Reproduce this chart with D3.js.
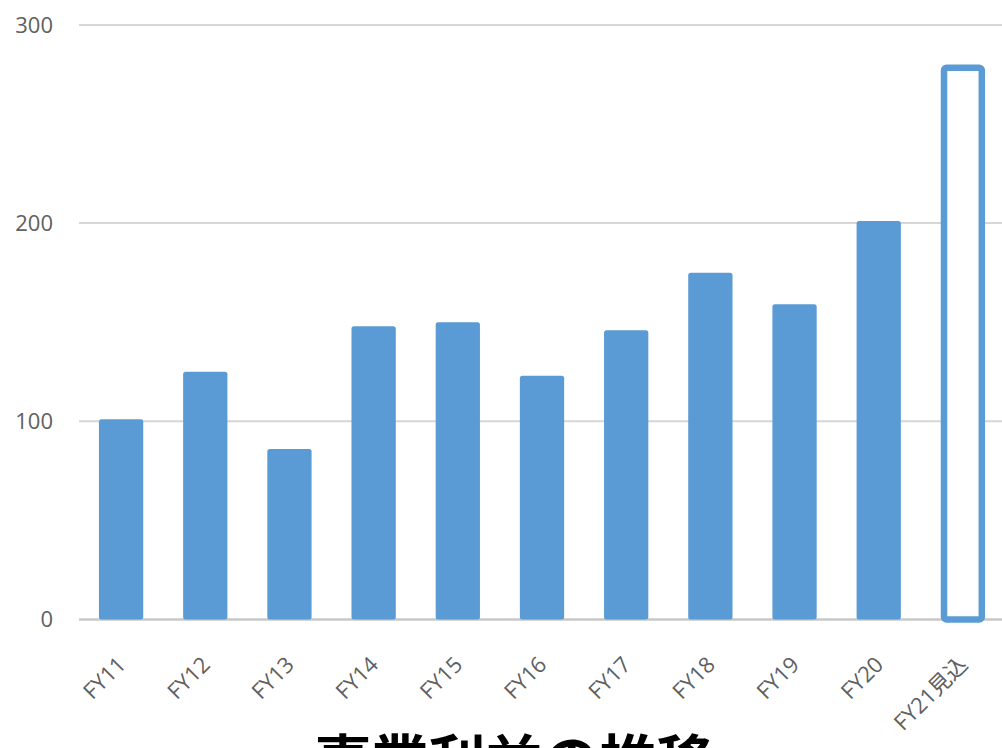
<!DOCTYPE html>
<html><head><meta charset="utf-8">
<script src="https://cdn.jsdelivr.net/npm/d3@7"></script>
<style>
html,body{margin:0;padding:0;background:#fff;overflow:hidden;}
svg{display:block;}
</style></head>
<body>
<svg id="chart" width="1002" height="748"></svg>
<script>
const categories = ["FY11","FY12","FY13","FY14","FY15","FY16","FY17","FY18","FY19","FY20","FY21見込"];
const values = [101, 125, 86, 148, 150, 123, 146, 175, 159, 201, 280];
const forecast = [false,false,false,false,false,false,false,false,false,false,true];
const yTicks = [0, 100, 200, 300];
const title = "事業利益の推移";

const svg = d3.select("#chart");
const blue = "#5b9bd5";
const x = d3.scaleBand().domain(categories).range([79, 1005]).paddingInner(0.474).paddingOuter(0.237);
const y = d3.scaleLinear().domain([0, 300]).range([619.5, 24.9]);

// gridlines
svg.append("g").selectAll("line").data(yTicks).join("line")
  .attr("x1", 79).attr("x2", 1005)
  .attr("y1", d => y(d)).attr("y2", d => y(d))
  .attr("stroke", d => d === 0 ? "#c8c8c8" : "#d6d6d6")
  .attr("stroke-width", d => d === 0 ? 2.5 : 2);

// y labels
svg.append("g").selectAll("text").data(yTicks).join("text")
  .attr("x", 53).attr("y", d => y(d))
  .attr("dy", "0.36em")
  .attr("text-anchor", "end")
  .attr("font-family", "'Open Sans', sans-serif")
  .attr("font-size", 22)
  .attr("fill", "#606060")
  .text(d => d);

// bars
const data = categories.map((c, i) => ({c, v: values[i], f: forecast[i]}));
const sw = 6.5;
svg.append("g").selectAll("rect").data(data).join("rect")
  .attr("x", d => d.f ? x(d.c) + sw/2 : x(d.c))
  .attr("width", d => d.f ? x.bandwidth() - sw : x.bandwidth())
  .attr("y", d => d.f ? y(d.v) + sw/2 : y(d.v))
  .attr("height", d => d.f ? y(0) - y(d.v) - sw/2 : y(0) - y(d.v))
  .attr("rx", 2.5)
  .attr("fill", d => d.f ? "#fff" : blue)
  .attr("stroke", d => d.f ? blue : "none")
  .attr("stroke-width", sw);

// x labels
svg.append("g").selectAll("text").data(categories).join("text")
  .attr("transform", d => `translate(${x(d) + x.bandwidth()/2 + 6},${666}) rotate(-45)`)
  .attr("text-anchor", "end")
  .attr("font-family", "'Open Sans', 'Noto Sans CJK JP', sans-serif")
  .attr("font-size", 22)
  .attr("fill", "#606060")
  .text(d => d);

// title
svg.append("text")
  .attr("x", 514).attr("y", 782)
  .attr("text-anchor", "middle")
  .attr("font-family", "'Noto Sans CJK JP', sans-serif")
  .attr("font-weight", 700)
  .attr("font-size", 57)
  .attr("fill", "#000")
  .text(title);
</script>
</body></html>
